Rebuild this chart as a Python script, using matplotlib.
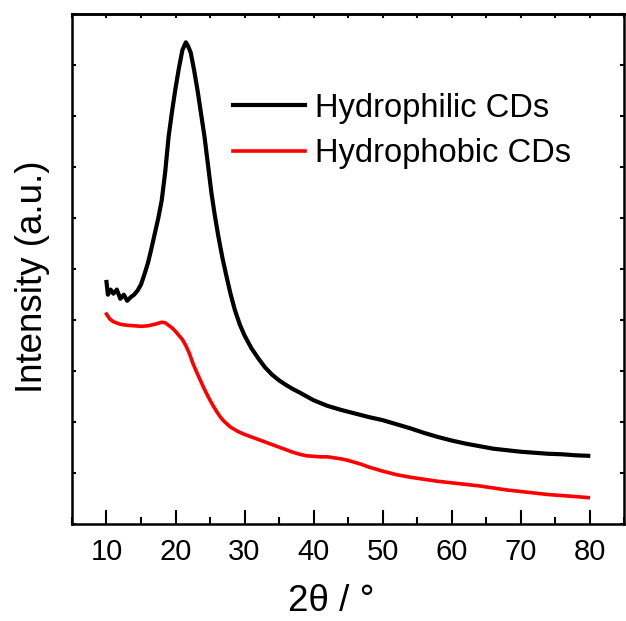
import numpy as np
import matplotlib
matplotlib.use('Agg')
from matplotlib import pyplot as plt
from matplotlib.ticker import MultipleLocator, NullFormatter

plt.rcParams['font.family'] = ['Liberation Sans', 'DejaVu Sans']

# (2theta in degrees, intensity in arbitrary units)
philic_x = [10, 10.2, 10.6, 11, 11.5, 12, 12.5, 13, 13.5, 14, 14.5, 15, 15.5, 16, 16.5,
            17, 17.5, 18, 18.5, 19, 19.5, 20, 20.5, 21, 21.5, 21.8, 22.2, 22.7, 23.2,
            23.7, 24.2, 24.7, 25.2, 25.7, 26.2, 26.8, 27.4, 28, 28.6, 29.3, 30, 31, 32,
            33, 34, 35, 36, 37, 38, 40, 42, 44, 46, 48, 50, 52, 54, 56, 58, 60, 62, 64,
            66, 68, 70, 72, 74, 76, 78, 79.8]
philic_y = [4.75, 4.5, 4.6, 4.52, 4.6, 4.42, 4.5, 4.38, 4.45, 4.5, 4.58, 4.7, 4.9, 5.12, 5.4,
            5.7, 6.0, 6.35, 6.9, 7.6, 8.1, 8.55, 8.95, 9.3, 9.45, 9.38, 9.25, 8.9, 8.5,
            8.05, 7.6, 7.05, 6.5, 6.05, 5.65, 5.22, 4.85, 4.5, 4.2, 3.92, 3.7, 3.45, 3.25,
            3.07, 2.93, 2.82, 2.73, 2.65, 2.58, 2.43, 2.32, 2.24, 2.17, 2.1, 2.04, 1.96, 1.88,
            1.79, 1.71, 1.64, 1.58, 1.53, 1.48, 1.45, 1.42, 1.4, 1.38, 1.37, 1.35, 1.34]

phobic_x = [10, 10.5, 11, 12, 13, 14, 15, 16, 17, 18, 18.5, 19, 19.5, 20, 20.5, 21, 21.5,
            22, 22.5, 23, 23.5, 24, 24.5, 25, 25.5, 26, 26.5, 27, 28, 29, 30, 31, 32, 33,
            34, 35, 36, 37, 38, 39, 40, 41, 42, 43, 44, 45, 46, 47, 48, 50, 52, 54, 56,
            58, 60, 62, 64, 66, 68, 70, 72, 74, 76, 78, 79.8]
phobic_y = [4.12, 4.02, 3.97, 3.92, 3.9, 3.89, 3.88, 3.89, 3.92, 3.96, 3.95, 3.9, 3.85, 3.78,
            3.7, 3.62, 3.5, 3.35, 3.16, 3.0, 2.85, 2.7, 2.56, 2.43, 2.31, 2.2, 2.1, 2.02,
            1.9, 1.82, 1.76, 1.71, 1.66, 1.61, 1.56, 1.51, 1.46, 1.41, 1.37, 1.34, 1.33, 1.32,
            1.32, 1.3, 1.28, 1.25, 1.21, 1.17, 1.12, 1.04, 0.97, 0.92, 0.88, 0.84, 0.81,
            0.78, 0.75, 0.71, 0.67, 0.64, 0.61, 0.58, 0.56, 0.54, 0.52]

labels = ['Hydrophilic CDs', 'Hydrophobic CDs']

fig = plt.figure(figsize=(6.26, 6.21), dpi=100)
ax = fig.add_axes([0.115, 0.156, 0.882, 0.821])

ax.plot(philic_x, philic_y, color='black', lw=3.0, label=labels[0])
ax.plot(phobic_x, phobic_y, color='red', lw=2.6, label=labels[1])

ax.set_xlim(5, 85)
ax.set_ylim(0, 10)

ax.xaxis.set_major_locator(MultipleLocator(10))
ax.xaxis.set_minor_locator(MultipleLocator(5))
ax.yaxis.set_major_locator(MultipleLocator(1))
ax.yaxis.set_major_formatter(NullFormatter())
ax.set_xticks([10, 20, 30, 40, 50, 60, 70, 80])

ax.tick_params(axis='x', which='major', direction='in', length=10, width=1.5,
               labelsize=21, pad=10)
ax.tick_params(axis='x', which='minor', direction='in', length=5, width=1.5)
ax.tick_params(axis='y', which='major', direction='in', length=3, width=1.5,
               left=True, right=True)

top = ax.secondary_xaxis('top')
top.xaxis.set_major_locator(MultipleLocator(5))
top.xaxis.set_major_formatter(NullFormatter())
top.tick_params(direction='in', length=3, width=1.5)

for s in ax.spines.values():
    s.set_linewidth(1.8)
top.spines['top'].set_linewidth(1.8)

ax.set_xlabel('2θ / °', fontsize=26.5)
ax.xaxis.set_label_coords(0.469, -0.118)
ax.set_ylabel('Intensity (a.u.)', fontsize=26.5)
ax.yaxis.set_label_coords(-0.04, 0.485)

ax.legend(loc='upper left', bbox_to_anchor=(0.2917, 0.846), frameon=False,
          fontsize=23.5, handlelength=2.2, handletextpad=0.3, labelspacing=0.45,
          borderpad=0, borderaxespad=0)

plt.savefig('out.png', dpi=100)
